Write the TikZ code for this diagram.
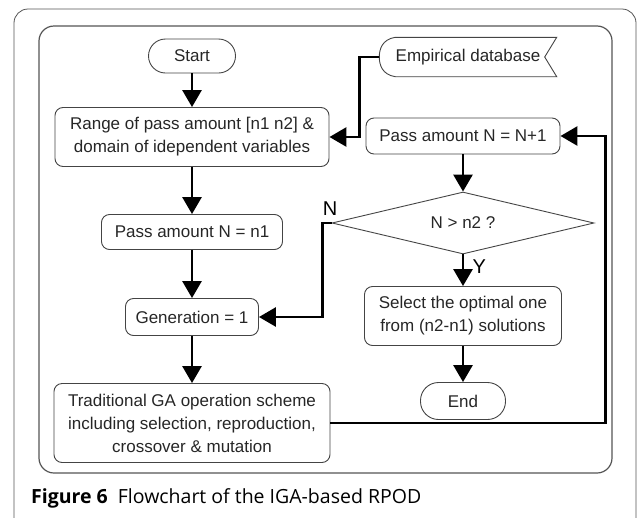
\documentclass[tikz,border=0pt]{standalone}
\usepackage{fontspec}
\setmainfont{Liberation Sans}
\newfontfamily\capfont{Open Sans}
\usepackage{tikz}
\usetikzlibrary{
  shapes.geometric,
  arrows.meta,
  calc
}
\definecolor{boxline}{HTML}{444444}
\definecolor{frameline}{HTML}{555555}
\tikzset{
  flow/.style={line width=2.8pt, -{Triangle[length=17pt,width=19pt]}},
  box/.style={draw=boxline, line width=0.9pt, rounded corners=8pt, align=center,
    font=\fontsize{17}{23}\selectfont, inner sep=0pt, text=black!85},
  term/.style={box, rounded corners=17pt, minimum height=34pt},
  decision/.style={draw=boxline, line width=0.9pt, diamond, aspect=4.2,
    minimum width=262pt, minimum height=62pt, inner sep=0pt,
    font=\fontsize{17}{23}\selectfont, text=black!85}
}

\begin{document}
\begin{tikzpicture}[x=1pt, y=-1pt]
    \useasboundingbox (0,0) rectangle (637,517);
    % frames
    \draw[frameline, line width=0.8pt, rounded corners=14pt] (14,530) -- (14,9) -- (636,9) -- (636,530);
    \draw[frameline, line width=1.2pt, rounded corners=15pt] (39,26) rectangle (612,473);
    % left column
    \node[term, minimum width=87pt] (start) at (192,56) {Start};
    \node[box, minimum width=274pt, minimum height=59pt] (range) at (192,137)
      {Range of pass amount [n1 n2] \&\\domain of idependent variables};
    \node[box, minimum width=181pt, minimum height=35pt] (first) at (192,232) {Pass amount N = n1};
    \node[box, minimum width=133pt, minimum height=37pt] (gen) at (192,317) {Generation = 1};
    \node[box, minimum width=276pt, minimum height=79pt] (trad) at (192,423)
      {Traditional GA operation scheme\\including selection, reproduction,\\crossover \& mutation};
    % right column
    \node[minimum width=177pt, minimum height=39pt, inner sep=0pt, text=black!85,
      font=\fontsize{17}{23}\selectfont] (edb) at (468,57) {Empirical database\hspace{4pt}};
    \draw[boxline, line width=0.9pt] ($(edb.north west)+(16,0)$) -- ($(edb.north east)$)
      -- ($(edb.east)+(-12,0)$) -- (edb.south east) -- ($(edb.south west)+(16,0)$)
      .. controls ($(edb.south west)+(3,-2)$) and ($(edb.west)+(0,8)$) .. (edb.west)
      .. controls ($(edb.west)+(0,-8)$) and ($(edb.north west)+(3,2)$) .. ($(edb.north west)+(16,0)$);
    \node[box, minimum width=194pt, minimum height=36pt] (inc) at (463,136) {Pass amount N = N+1};
    \node[decision] (dec) at (463,223) {N > n2 ?};
    \node[box, minimum width=197pt, minimum height=59pt] (sel) at (463,316)
      {Select the optimal one\\from (n2-n1) solutions};
    \node[term, minimum width=85pt, minimum height=37pt, rounded corners=18pt] (end) at (463,401) {End};
    % connectors
    \draw[flow] (start) -- (range);
    \draw[flow] (range) -- (first);
    \draw[flow] (first) -- (gen);
    \draw[flow] (gen) -- (trad);
    \draw[flow] (edb.west) -- ++(-20,0) |- (range.east);
    \draw[flow] (inc) -- (dec);
    \draw[flow] (dec.west) -- ++(-9,0) |- (gen.east);
    \draw[flow] (dec.south) -- (sel.north) node[pos=0.4, right=5pt, font=\fontsize{20}{20}\selectfont] {Y};
    \draw[flow] (sel) -- (end);
    \draw[flow] (trad.east) -- ++(275,0) |- (inc.east);
    \node[font=\fontsize{20}{20}\selectfont, anchor=south] (nlab) at (330,219) {N};
    % caption
    \node[anchor=base west, inner sep=0pt, font=\capfont\fontsize{19.5}{22}\selectfont] (cap) at (31,503)
      {\textbf{Figure 6}\hspace{10pt}Flowchart of the IGA-based RPOD};
\end{tikzpicture}
\end{document}
